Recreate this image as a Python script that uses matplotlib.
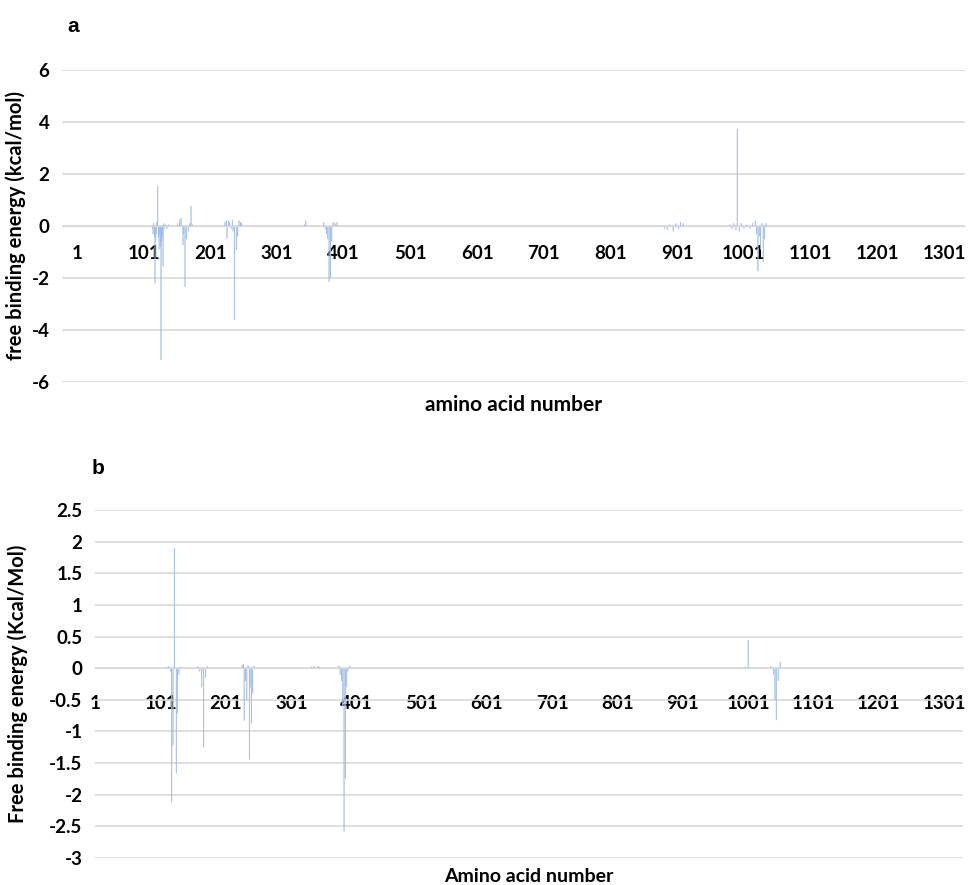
import matplotlib
matplotlib.use("Agg")
import matplotlib.pyplot as plt

# panel a: residue number and free binding energy (kcal/mol), non-zero residues only
res_a = [114, 115, 116, 117, 118, 119, 120, 121, 122, 123, 124, 125, 126, 127, 128,
         129, 130, 131, 132, 134, 136, 138,
         152, 155, 157, 160, 161, 163, 165, 168, 170, 172, 174,
         223, 225, 226, 228, 230, 232, 234, 235, 237, 240, 242, 244, 246, 248,
         342, 344,
         371, 373, 375, 377, 379, 381, 383, 385, 388, 391,
         882, 886, 890, 895, 899, 903, 906, 910,
         980, 983, 986, 989, 991, 994, 997, 1001, 1005, 1010, 1014, 1018, 1020,
         1022, 1024, 1026, 1028, 1030, 1032, 1034]
val_a = [-0.1, -0.3, 0.1, -0.4, -2.2, -0.6, -0.3, 0.15, 1.54, -0.45, -0.9, -0.3, -0.8, -5.15, -0.6,
         -0.4, -1.55, 0.1, -0.1, 0.05, -0.1, 0.05,
         0.1, 0.23, 0.3, -0.73, -0.3, -2.33, -0.5, -0.2, 0.1, 0.77, 0.05,
         0.15, 0.2, -0.47, 0.2, 0.15, -0.1, 0.23, -0.2, -3.6, -0.92, -0.4, 0.2, 0.15, 0.1,
         0.05, 0.2,
         0.15, -0.1, -0.3, -0.5, -2.14, -2.0, -0.6, 0.15, 0.1, 0.15,
         -0.1, -0.15, 0.05, -0.2, 0.1, -0.1, 0.15, 0.1,
         0.05, -0.1, 0.1, -0.15, 3.73, -0.2, 0.1, -0.1, 0.05, -0.1, 0.1, 0.2, -0.3,
         -1.73, -0.4, -0.9, 0.1, -1.38, -0.5, 0.1]

# panel b: residue number and free binding energy (kcal/mol)
res_b = [110, 113, 116, 118, 120, 122, 125, 127, 129, 132,
         158, 161, 164, 167, 170, 173,
         226, 228, 229, 231, 233, 235, 237, 238, 240, 242, 244,
         332, 336, 342, 344,
         374, 376, 378, 380, 382, 384, 386, 388, 391,
         997, 1001, 1036, 1040, 1042, 1044, 1047, 1050]
val_b = [0.02, 0.03, -0.05, -2.12, -1.22, 1.9, -1.66, -0.71, -0.1, 0.02,
         0.03, -0.05, -0.3, -1.25, -0.15, 0.03,
         0.05, 0.06, -0.83, -0.2, -0.5, 0.04, -1.44, -0.3, -0.87, -0.4, 0.03,
         0.02, 0.03, 0.03, 0.02,
         0.04, -0.1, -0.2, -0.6, -2.58, -1.74, -0.3, -0.05, 0.04,
         0.02, 0.44, 0.03, -0.1, -0.5, -0.82, -0.2, 0.1]

xticks = list(range(1, 1302, 100))

W, H = 968, 885
fig = plt.figure(figsize=(W / 100, H / 100), dpi=100)

FAM = ["Lato", "DejaVu Sans"]
TICK_FONT = dict(family=FAM, weight="bold", size=13.5)
LABEL_FONT = dict(family=FAM, weight="bold", size=14.5)
BAR_COLOR = "#9dbbe6"
GRID_COLOR = "#d9d9d9"


def px_axes(left, top, right, bottom):
    return fig.add_axes([left / W, 1 - bottom / H, (right - left) / W, (bottom - top) / H])


def style(ax, xlim, ylim, yticks, ylabels, xpad, ylabel, ylabel_x,
          xlabel, xlabel_y, xlabel_size):
    # spine move first: it resets the tick objects
    ax.spines["bottom"].set_position(("data", 0))
    ax.spines["bottom"].set_color(GRID_COLOR)
    for side in ("top", "right", "left"):
        ax.spines[side].set_visible(False)
    ax.set_xlim(*xlim)
    ax.set_ylim(*ylim)
    ax.set_yticks(yticks)
    ax.set_yticklabels(ylabels, fontdict=TICK_FONT)
    ax.set_xticks(xticks)
    ax.set_xticklabels([str(t) for t in xticks], fontdict=TICK_FONT)
    ax.tick_params(axis="both", length=0)
    ax.tick_params(axis="x", pad=xpad)
    ax.tick_params(axis="y", pad=9)
    ax.grid(axis="y", color=GRID_COLOR, linewidth=1.2)
    ax.set_axisbelow(True)
    ax.set_ylabel(ylabel, fontdict=LABEL_FONT)
    ax.yaxis.set_label_coords(ylabel_x, 0.5)
    ax.text(0.5, xlabel_y, xlabel, transform=ax.transAxes, ha="center", va="center",
            family=FAM, weight="bold", size=xlabel_size)


def draw_bars(ax, res, val):
    ax.bar(res, val, width=0.8, color=BAR_COLOR, edgecolor=BAR_COLOR,
           linewidth=0.3, snap=False)


ax_a = px_axes(62, 70, 965, 382)
draw_bars(ax_a, res_a, val_a)
style(ax_a, (-21.5, 1332.5), (-6, 6), [-6, -4, -2, 0, 2, 4, 6],
      ["-6", "-4", "-2", "0", "2", "4", "6"], 14,
      "free binding energy (kcal/mol)", (26 - 62) / 903,
      "amino acid number", -23 / 312, 15)

ax_b = px_axes(95, 510, 963, 858)
draw_bars(ax_b, res_b, val_b)
yb = [-3, -2.5, -2, -1.5, -1, -0.5, 0, 0.5, 1, 1.5, 2, 2.5]
style(ax_b, (0.5, 1330), (-3, 2.5), yb, [f"{v:g}" for v in yb], 19,
      "Free binding energy (Kcal/Mol)", (28 - 95) / 868,
      "Amino acid number", -18 / 348, 14)

fig.text(73 / W, 1 - 27 / H, "a", ha="center", va="center", fontsize=15,
         fontweight="bold", family="Liberation Sans")
fig.text(98 / W, 1 - 468 / H, "b", ha="center", va="center", fontsize=15,
         fontweight="bold", family="Liberation Sans")

fig.savefig("out.png", dpi=100)
